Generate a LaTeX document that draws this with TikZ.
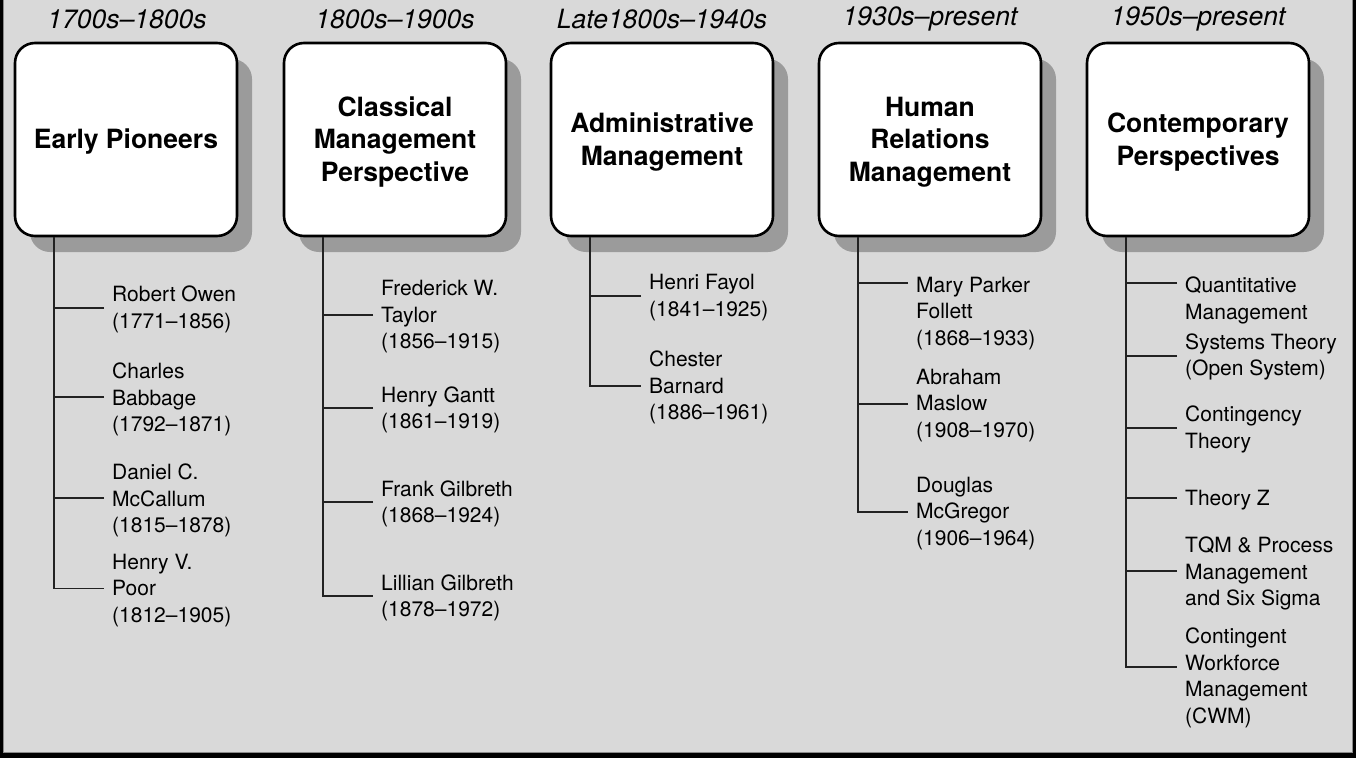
\documentclass[tikz,border=0pt]{standalone}
\usepackage{fontspec}
\setmainfont{TeX Gyre Heros}
\usetikzlibrary{shadows}
\definecolor{panel}{HTML}{D9D9D9}
\definecolor{shadegray}{HTML}{9B9B9B}
\definecolor{edgegray}{HTML}{8A8A8A}
\definecolor{linkgray}{HTML}{222222}
% a short branch from the trunk of a column to one of its items
\newcommand\twig[3]{%
  \coordinate (#1-k) at ([xshift=-8pt,yshift=#3]#1.west);
  \draw[link] (#1-k) -- (#1-k -| #2);}
% extra headroom above the first line of a box title
\newcommand\toppad{\rule{0pt}{24.5pt}}
\begin{document}
\begin{tikzpicture}[x=1pt,y=-1pt,
  era/.style={font=\fontsize{26.5}{30}\selectfont\itshape, inner sep=0pt},
  stage/.style={draw=black, line width=2.6pt, fill=white, rounded corners=20pt,
    minimum width=222pt, minimum height=193pt, inner sep=0pt, align=center,
    font=\fontsize{26.5}{32.5}\selectfont\bfseries,
    drop shadow={shadow xshift=15pt, shadow yshift=-16pt, fill=shadegray, opacity=1, draw=none}},
  item/.style={anchor=west, align=left, inner sep=0pt, font=\fontsize{21}{26.5}\selectfont},
  link/.style={line width=1.6pt, draw=linkgray}]
\useasboundingbox (0,0) rectangle (1356,758);
% framed panel
\fill[black] (0,0) rectangle (1356,758);
\filldraw[fill=panel, draw=edgegray, line width=1pt] (3.5,-2) rectangle (1352.5,752.5);

% eras
\node[era] (p1) at (127,19) {1700s–1800s};
\node[era] (p2) at (395,19) {1800s–1900s};
\node[era] (p3) at (662,19) {Late1800s–1940s};
\node[era] (p4) at (930,19) {1930s–present};
\node[era] (p5) at (1198,19) {1950s–present};

% schools of thought
\node[stage] (b1) at (126,139.5) {\toppad Early Pioneers};
\node[stage] (b2) at (395,139.5) {\toppad Classical\\Management\\Perspective};
\node[stage] (b3) at (662,139.5) {\toppad Administrative\\Management};
\node[stage] (b4) at (930,139.5) {\toppad Human\\Relations\\Management};
\node[stage] (b5) at (1198,139.5) {\toppad Contemporary\\Perspectives};

\foreach \i in {1,...,5} \coordinate (t\i) at ([xshift=40.5pt]b\i.south west);

% Early Pioneers
\node[item] (i11) at (112,309.5) {Robert Owen\\(1771–1856)};
\node[item] (i12) at (112,399.5) {Charles\\Babbage\\(1792–1871)};
\node[item] (i13) at (112,500.5) {Daniel C.\\McCallum\\(1815–1878)};
\node[item] (i14) at (112,590.5) {Henry V.\\Poor\\(1812–1905)};
\twig{i11}{t1}{1.5pt}
\twig{i12}{t1}{2.5pt}
\twig{i13}{t1}{2.5pt}
\coordinate (i14-k) at ([xshift=-8pt,yshift=2pt]i14.west);
\draw[link] (t1) |- (i14-k);

% Classical Management Perspective
\node[item] (i21) at (381,317) {Frederick W.\\Taylor\\(1856–1915)};
\node[item] (i22) at (381,410) {Henry Gantt\\(1861–1919)};
\node[item] (i23) at (381,504) {Frank Gilbreth\\(1868–1924)};
\node[item] (i24) at (381,598) {Lillian Gilbreth\\(1878–1972)};
\twig{i21}{t2}{2pt}
\twig{i22}{t2}{2pt}
\twig{i23}{t2}{2pt}
\coordinate (i24-k) at ([xshift=-8pt,yshift=2pt]i24.west);
\draw[link] (t2) |- (i24-k);

% Administrative Management
\node[item] (i31) at (649,297.5) {Henri Fayol\\(1841–1925)};
\node[item] (i32) at (649,387.5) {Chester\\Barnard\\(1886–1961)};
\twig{i31}{t3}{1.5pt}
\coordinate (i32-k) at ([xshift=-8pt,yshift=1.5pt]i32.west);
\draw[link] (t3) |- (i32-k);

% Human Relations Management
\node[item] (i41) at (916,313.5) {Mary Parker\\Follett\\(1868–1933)};
\node[item] (i42) at (916,405.5) {Abraham\\Maslow\\(1908–1970)};
\node[item] (i43) at (916,513.5) {Douglas\\McGregor\\(1906–1964)};
\twig{i41}{t4}{30.5pt}
\twig{i42}{t4}{1.5pt}
\coordinate (i43-k) at ([xshift=-8pt,yshift=1.5pt]i43.west);
\draw[link] (t4) |- (i43-k);

% Contemporary Perspectives
\node[item] (i51) at (1185,300.5) {Quantitative\\Management};
\node[item] (i52) at (1185,357) {Systems Theory\\(Open System)};
\node[item] (i53) at (1185,429.5) {Contingency\\Theory};
\node[item] (i54) at (1185,500) {Theory Z};
\node[item] (i55) at (1185,573.5) {TQM \& Process\\Management\\and Six Sigma};
\node[item] (i56) at (1185,678) {Contingent\\Workforce\\Management\\(CWM)};
\twig{i51}{t5}{17.5pt}
\twig{i52}{t5}{1pt}
\twig{i53}{t5}{1.5pt}
\twig{i54}{t5}{2pt}
\twig{i55}{t5}{2.5pt}
\coordinate (i56-k) at ([xshift=-8pt,yshift=11pt]i56.west);
\draw[link] (t5) |- (i56-k);
\end{tikzpicture}
\end{document}
